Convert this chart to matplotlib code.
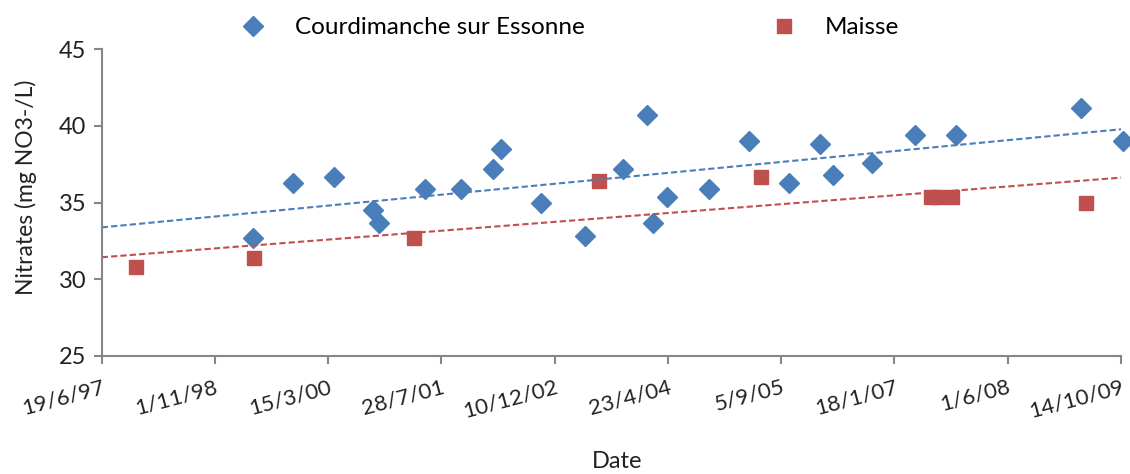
import datetime as dt
import numpy as np
import matplotlib
matplotlib.use("Agg")
import matplotlib.pyplot as plt
import matplotlib.dates as mdates
from matplotlib.ticker import FixedLocator, FuncFormatter

plt.rcParams['font.family'] = ['Lato', 'DejaVu Sans']

# Courdimanche sur Essonne
court_dates = ["1999-04-19", "1999-10-13", "2000-04-11", "2000-09-30", "2000-10-27",
               "2001-05-16", "2001-10-22", "2002-03-11", "2002-04-17", "2002-10-11",
               "2003-04-24", "2003-10-09", "2004-01-20", "2004-02-18", "2004-04-19",
               "2004-10-21", "2005-04-14", "2005-10-11", "2006-02-23", "2006-04-20",
               "2006-10-11", "2007-04-19", "2007-10-17", "2009-04-21", "2009-10-22"]
court_vals = [32.7, 36.3, 36.7, 34.5, 33.7, 35.9, 35.9, 37.2, 38.5, 35.0,
              32.8, 37.2, 40.7, 33.7, 35.4, 35.9, 39.0, 36.3, 38.8, 36.8,
              37.6, 39.4, 39.4, 41.2, 39.0]

# Maisse
maisse_dates = ["1997-11-17", "1999-04-21", "2001-03-27", "2003-06-25", "2005-06-09",
                "2007-06-28", "2007-07-28", "2007-09-28", "2009-05-14"]
maisse_vals = [30.8, 31.4, 32.7, 36.4, 36.7, 35.4, 35.4, 35.4, 35.0]

x_start = dt.date(1997, 6, 19)
x_end = dt.date(2009, 10, 14)
tick_step_days = 500

BLUE = "#4A7EBB"
RED = "#C0504D"
AXIS = "#868686"
TEXT = "#222222"

fig = plt.figure(figsize=(11.3, 4.74), dpi=100)
ax = fig.add_axes([0.090, 0.249, 0.902, 0.647])

cx = mdates.date2num([dt.date.fromisoformat(d) for d in court_dates])
mx = mdates.date2num([dt.date.fromisoformat(d) for d in maisse_dates])
x0, x1 = mdates.date2num(x_start), mdates.date2num(x_end)

ax.plot(cx, court_vals, linestyle='none', marker='D', markersize=10,
        color=BLUE, label="Courdimanche sur Essonne", clip_on=False)
ax.plot(mx, maisse_vals, linestyle='none', marker='s', markersize=9.5,
        color=RED, label="Maisse", clip_on=False)

# linear trend lines across the axis range
xs = np.array([x0, x1])
for xv, yv, col in [(cx, court_vals, BLUE), (mx, maisse_vals, RED)]:
    k, b = np.polyfit(xv, yv, 1)
    ax.plot(xs, k * xs + b, color=col, linewidth=1.5, linestyle=(0, (3, 1.5)))

ax.set_xlim(x0, x1)
ax.set_ylim(25, 45)
ax.set_yticks([25, 30, 35, 40, 45])
ax.xaxis.set_major_locator(FixedLocator(np.arange(x0, x1 + 1, tick_step_days)))

def fmt_date(v, pos):
    d = mdates.num2date(v)
    return f"{d.day}/{d.month}/{d.strftime('%y')}"

ax.xaxis.set_major_formatter(FuncFormatter(fmt_date))

for s in ['top', 'right']:
    ax.spines[s].set_visible(False)
for s in ['left', 'bottom']:
    ax.spines[s].set_color(AXIS)
    ax.spines[s].set_linewidth(1.5)
ax.tick_params(axis='both', colors=AXIS, length=6, width=1.5, labelcolor=TEXT)
ax.tick_params(axis='y', labelsize=17, pad=5)
ax.tick_params(axis='x', labelsize=16, pad=9)
for lab in ax.get_xticklabels():
    lab.set_rotation(15)
    lab.set_ha('right')
    lab.set_rotation_mode('anchor')

ax.set_ylabel("Nitrates (mg NO3-/L)", fontsize=16.5, color=TEXT)
ax.yaxis.set_label_coords(-0.063, 0.55)
fig.text(617 / 1130, 1 - 462 / 474, "Date", fontsize=17, color=TEXT,
         ha='center', va='center')

fig.legend(loc='center left', bbox_to_anchor=(0.2112, 0.941), ncol=2, frameon=False,
           fontsize=17.5, columnspacing=7.6, handletextpad=1.1, handlelength=1.2,
           borderpad=0, borderaxespad=0, markerscale=1.0)

fig.savefig("out.png", dpi=100)
